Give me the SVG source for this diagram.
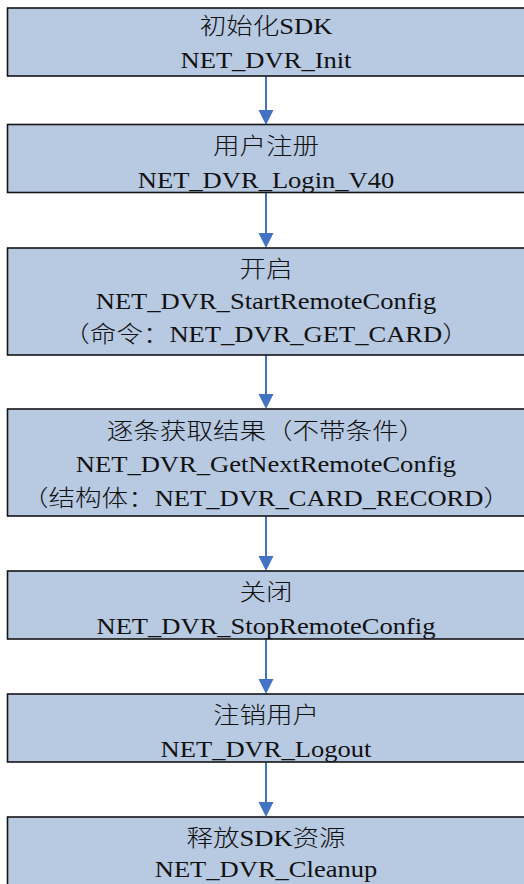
<svg xmlns="http://www.w3.org/2000/svg" width="524" height="884" viewBox="0 0 524 884">
  <style>
    .box { fill: #B8C9E2; stroke: #151515; stroke-width: 1.6; }
    .lbl { font-family: "Liberation Serif", "Noto Sans CJK SC", serif; font-size: 22.5px; font-weight: 300; fill: #111; text-anchor: middle; }
    .link { stroke: #4472C4; stroke-width: 2; fill: none; }
    .head { fill: #4472C4; }
  </style>
  <defs>
    <path id="tip" d="M -7.5 -15 L 7.5 -15 L 0 0 Z"/>
  </defs>

  <!-- connectors: straight down the centre column, tips resting on the next box -->
  <g id="connectors">
    <line class="link" x1="266" y1="76" x2="266" y2="112"/>
    <use href="#tip" class="head" transform="translate(266,125)"/>
    <line class="link" x1="266" y1="192" x2="266" y2="235"/>
    <use href="#tip" class="head" transform="translate(266,248)"/>
    <line class="link" x1="266" y1="355" x2="266" y2="396"/>
    <use href="#tip" class="head" transform="translate(266,409)"/>
    <line class="link" x1="266" y1="516" x2="266" y2="558"/>
    <use href="#tip" class="head" transform="translate(266,571)"/>
    <line class="link" x1="266" y1="639" x2="266" y2="681"/>
    <use href="#tip" class="head" transform="translate(266,694)"/>
    <line class="link" x1="266" y1="762" x2="266" y2="804"/>
    <use href="#tip" class="head" transform="translate(266,817)"/>
  </g>

  <!-- each label block is widened 1.18x around the centre column -->
  <g id="init">
    <rect class="box" x="7.5" y="8" width="530" height="68"/>
    <g transform="translate(266,0) scale(1.18,1)">
      <text class="lbl" x="0" y="34">初始化SDK</text>
      <text class="lbl" x="0" y="68">NET_DVR_Init</text>
    </g>
  </g>

  <g id="login">
    <rect class="box" x="7.5" y="124.5" width="530" height="68"/>
    <g transform="translate(266,0) scale(1.18,1)">
      <text class="lbl" x="0" y="154">用户注册</text>
      <text class="lbl" x="0" y="188">NET_DVR_Login_V40</text>
    </g>
  </g>

  <g id="start">
    <rect class="box" x="7.5" y="248" width="530" height="107"/>
    <g transform="translate(266,0) scale(1.18,1)">
      <text class="lbl" x="0" y="277">开启</text>
      <text class="lbl" x="0" y="309">NET_DVR_StartRemoteConfig</text>
      <text class="lbl" x="0" y="342">（命令：NET_DVR_GET_CARD）</text>
    </g>
  </g>

  <g id="getnext">
    <rect class="box" x="7.5" y="409" width="530" height="107"/>
    <g transform="translate(266,0) scale(1.18,1)">
      <text class="lbl" x="0" y="439">逐条获取结果（不带条件）</text>
      <text class="lbl" x="0" y="472">NET_DVR_GetNextRemoteConfig</text>
      <text class="lbl" x="0" y="506">（结构体：NET_DVR_CARD_RECORD）</text>
    </g>
  </g>

  <g id="stop">
    <rect class="box" x="7.5" y="571" width="530" height="68"/>
    <g transform="translate(266,0) scale(1.18,1)">
      <text class="lbl" x="0" y="600">关闭</text>
      <text class="lbl" x="0" y="634">NET_DVR_StopRemoteConfig</text>
    </g>
  </g>

  <g id="logout">
    <rect class="box" x="7.5" y="694" width="530" height="68"/>
    <g transform="translate(266,0) scale(1.18,1)">
      <text class="lbl" x="0" y="723">注销用户</text>
      <text class="lbl" x="0" y="757">NET_DVR_Logout</text>
    </g>
  </g>

  <g id="cleanup">
    <rect class="box" x="7.5" y="817" width="530" height="80"/>
    <g transform="translate(266,0) scale(1.18,1)">
      <text class="lbl" x="0" y="846">释放SDK资源</text>
      <text class="lbl" x="0" y="877">NET_DVR_Cleanup</text>
    </g>
  </g>
</svg>
